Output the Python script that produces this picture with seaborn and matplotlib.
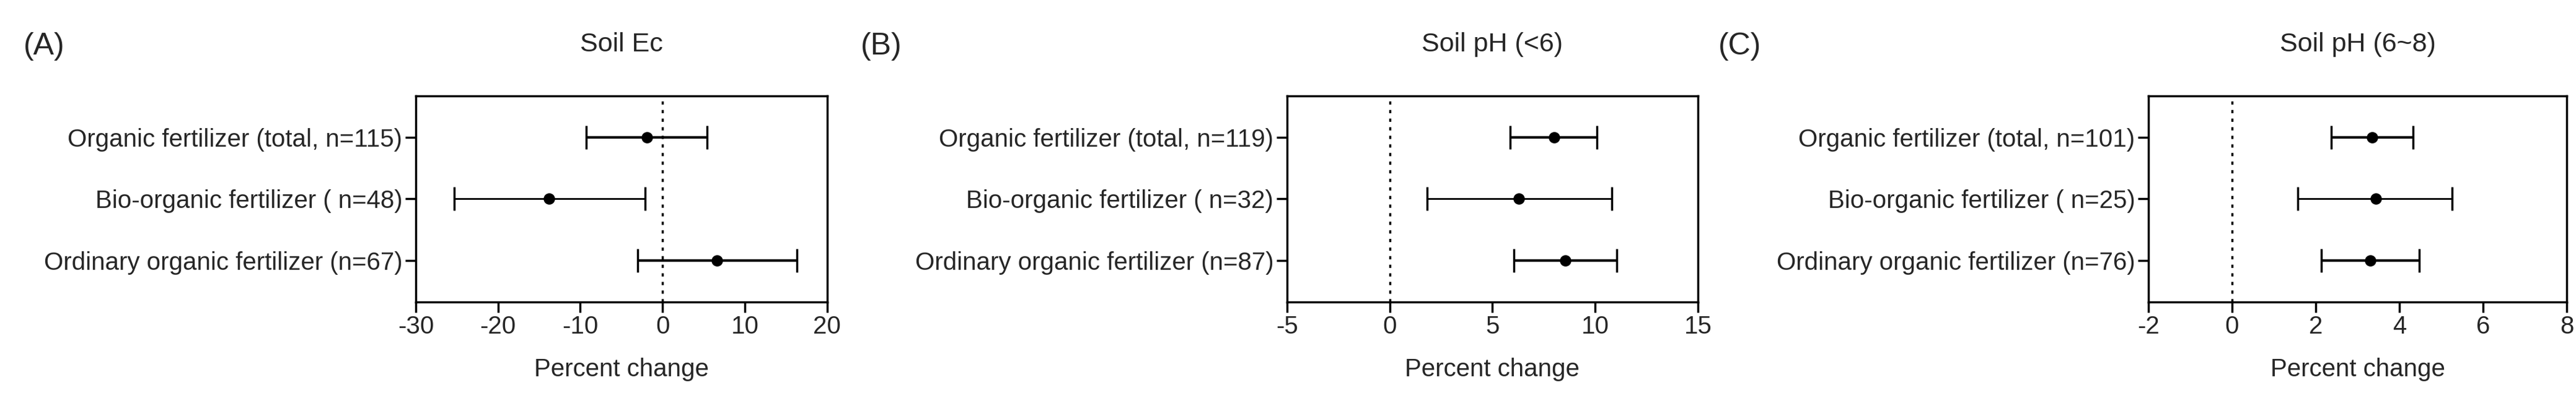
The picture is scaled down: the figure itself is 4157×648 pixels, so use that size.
import matplotlib
matplotlib.use("Agg")
import matplotlib.pyplot as plt
import seaborn as sns
import pandas as pd

sns.set_style("ticks")
plt.rcParams['font.family'] = ['Liberation Sans', 'DejaVu Sans']
plt.rcParams['axes.unicode_minus'] = False

panels = ["(A)", "(B)", "(C)"]
titles = ["Soil Ec", "Soil pH (<6)", "Soil pH (6~8)"]
labels_A = ["Organic fertilizer (total, n=115)", "Bio-organic fertilizer ( n=48)", "Ordinary organic fertilizer (n=67)"]
labels_B = ["Organic fertilizer (total, n=119)", "Bio-organic fertilizer ( n=32)", "Ordinary organic fertilizer (n=87)"]
labels_C = ["Organic fertilizer (total, n=101)", "Bio-organic fertilizer ( n=25)", "Ordinary organic fertilizer (n=76)"]
mean_A = [-1.9, -13.8, 6.6]
low_A = [-9.3, -25.3, -3.0]
high_A = [5.4, -2.1, 16.3]
mean_B = [8.0, 6.3, 8.55]
low_B = [5.85, 1.83, 6.04]
high_B = [10.1, 10.8, 11.05]
mean_C = [3.35, 3.43, 3.31]
low_C = [2.37, 1.57, 2.13]
high_C = [4.33, 5.26, 4.48]
xlims = [(-30, 20), (-5, 15), (-2, 8)]
xticks = [[-30, -20, -10, 0, 10, 20], [-5, 0, 5, 10, 15], [-2, 0, 2, 4, 6, 8]]
lefts = [0.1614, 0.4996, 0.834]
widths = [0.1597, 0.1595, 0.1624]
panel_x = [0.009, 0.334, 0.667]

fig = plt.figure(figsize=(41.57, 6.48), dpi=100)
data = [(labels_A, mean_A, low_A, high_A), (labels_B, mean_B, low_B, high_B), (labels_C, mean_C, low_C, high_C)]
lws = [3.0, 2.0, 3.0]
for i, (labs, m, lo, hi) in enumerate(data):
    ax = fig.add_axes([lefts[i], 0.247, widths[i], 0.514])
    df = pd.DataFrame({"label": labs, "mean": m, "low": lo, "high": hi, "pos": range(3)})
    for j, r in df.iterrows():
        ax.errorbar([r["mean"]], [r["pos"]], xerr=[[r["mean"] - r["low"]], [r["high"] - r["mean"]]],
                    fmt="none", ecolor="black", elinewidth=lws[j], capsize=14, capthick=2.5)
    sns.scatterplot(data=df, x="mean", y="pos", ax=ax, color="black", s=150, edgecolor="black", zorder=5)
    ax.axvline(0, color="black", linestyle=(0, (1.5, 2.5)), linewidth=2.5)
    ax.set_xlim(*xlims[i])
    ax.set_xticks(xticks[i])
    ax.set_ylim(2.68, -0.68)
    ax.set_yticks(range(3))
    ax.set_yticklabels(labs)
    ax.set_xlabel("Percent change", fontsize=29, labelpad=22)
    ax.set_ylabel("")
    ax.tick_params(axis="both", labelsize=29, width=2.5, length=12, color="black")
    for s in ax.spines.values():
        s.set_linewidth(2.5)
        s.set_color("black")
    ax.set_title(titles[i], fontsize=31, pad=52)
    fig.text(panel_x[i], 0.885, panels[i], fontsize=36, va="center")

fig.savefig("out.png", dpi=100)
